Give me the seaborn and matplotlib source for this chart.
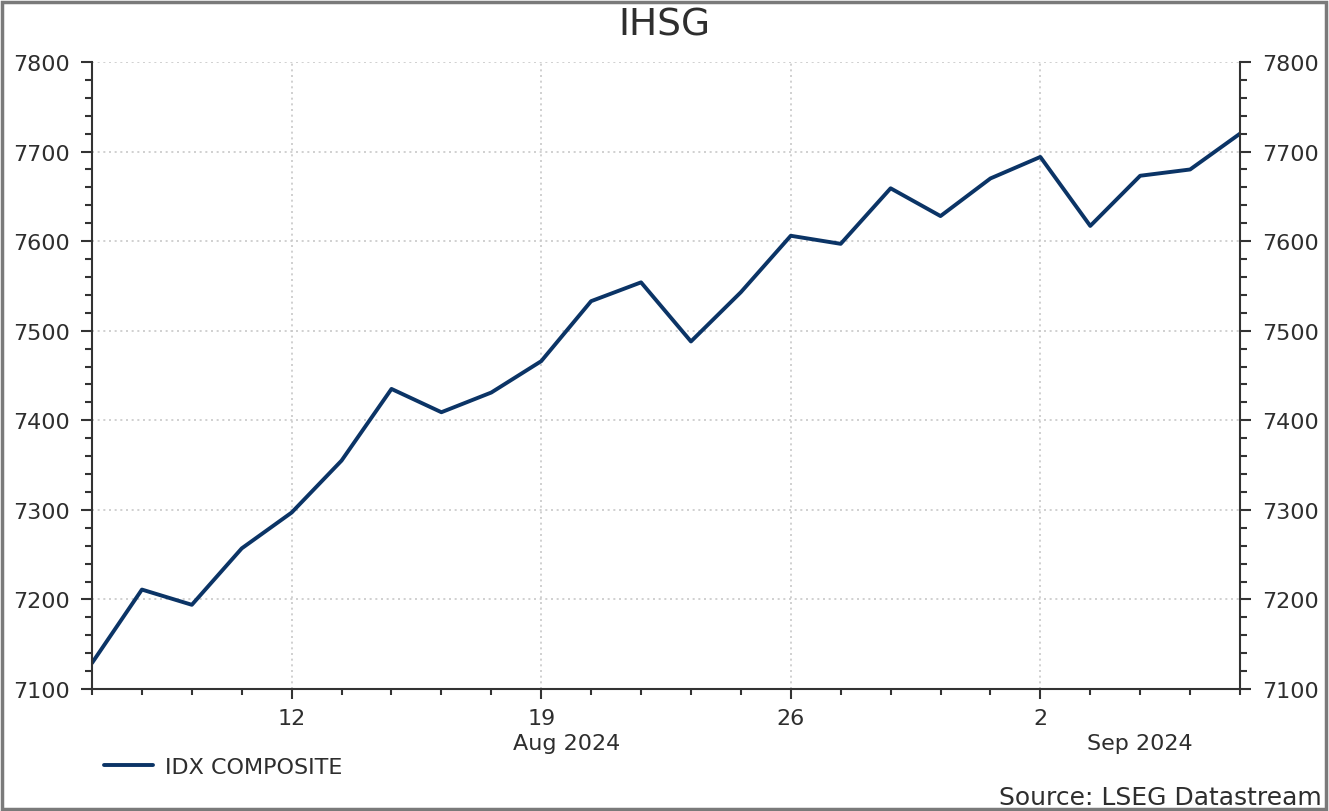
import numpy as np
import pandas as pd
import matplotlib
matplotlib.use("Agg")
import matplotlib.pyplot as plt
import seaborn as sns
from matplotlib.ticker import MultipleLocator, FixedLocator, NullFormatter
from matplotlib.patches import Rectangle

# ---- data ----
dates = pd.bdate_range("2024-08-06", "2024-09-06")
values = [7129, 7211, 7194, 7257, 7297, 7355, 7435, 7409, 7431, 7466,
          7533, 7554, 7488, 7543, 7606, 7597, 7659, 7628, 7670, 7694,
          7617, 7673, 7680, 7720]
series_name = "IDX COMPOSITE"
title = "IHSG"
source = "Source: LSEG Datastream"

df = pd.DataFrame({"date": dates, "value": values})
df["pos"] = np.arange(len(df))

sns.set_theme(style="white")
plt.rcParams["font.family"] = ["DejaVu Sans"]
text_color = "#2e2e2e"
line_color = "#0b3466"

fig = plt.figure(figsize=(13.29, 8.12), dpi=100)
ax = fig.add_axes([92/1329, 1-690/812, (1240-92)/1329, (690-63)/812])

sns.lineplot(data=df, x="pos", y="value", ax=ax, color=line_color,
             linewidth=2.8, label=series_name)

ax.set_xlim(0, len(df) - 1)
ax.set_ylim(7100, 7800)
ax.set_xlabel("")
ax.set_ylabel("")

# y ticks
ax.yaxis.set_major_locator(MultipleLocator(100))
ax.yaxis.set_minor_locator(MultipleLocator(20))
ax.tick_params(axis="y", which="both", left=True, right=True,
               labelleft=True, labelright=True, direction="out",
               colors="#333333", labelcolor=text_color, labelsize=16)
ax.tick_params(axis="y", which="major", length=8, width=1.5, pad=8)
ax.tick_params(axis="y", which="minor", length=5, width=1.5)

# x ticks: every trading day minor, Mondays major
mondays = df.index[df["date"].dt.dayofweek == 0].tolist()
ax.xaxis.set_major_locator(FixedLocator(mondays))
ax.set_xticklabels([str(df["date"][i].day) for i in mondays])
ax.xaxis.set_minor_locator(FixedLocator(df["pos"].tolist()))
ax.xaxis.set_minor_formatter(NullFormatter())
ax.tick_params(axis="x", which="both", bottom=True, direction="out",
               colors="#333333", labelcolor=text_color, labelsize=16)
ax.tick_params(axis="x", which="major", length=7, width=1.5, pad=7)
ax.tick_params(axis="x", which="minor", length=4, width=1.5)

# grid
ax.grid(True, which="major", color="#c8c8c8", linestyle=(0, (1.2, 2.2)),
        linewidth=1.2)
ax.set_axisbelow(True)

# spines
for s in ["left", "right", "bottom"]:
    ax.spines[s].set_visible(True)
    ax.spines[s].set_color("#333333")
    ax.spines[s].set_linewidth(1.5)
ax.spines["top"].set_visible(False)

# month labels
months = df["date"].dt.to_period("M")
uniq = months.unique()
for k, m in enumerate(uniq):
    idx = df.index[months == m]
    start = idx[0]
    end = df.index[months == uniq[k+1]][0] if k + 1 < len(uniq) else idx[-1]
    ax.text((start + end) / 2, -0.086, m.strftime("%b %Y"),
            transform=ax.get_xaxis_transform(), ha="center", va="center",
            fontsize=16, color=text_color)

# legend
ax.get_legend().remove()
handles, labels = ax.get_legend_handles_labels()
fig.legend(handles, labels, loc="center left",
           bbox_to_anchor=(104/1329, 1-768/812), frameon=False,
           borderpad=0, borderaxespad=0, handlelength=2.2,
           handletextpad=0.55, fontsize=16, labelcolor=text_color)

# title and source
fig.text(0.5, 1-25/812, title, ha="center", va="center", fontsize=27,
         color=text_color)
fig.text(1322/1329, 1-798/812, source, ha="right", va="center",
         fontsize=18, color=text_color)

# figure border
fig.patches.append(Rectangle((2/1329, 2/812), 1-5/1329, 1-5/812,
                             transform=fig.transFigure, fill=False,
                             edgecolor="#7a7a7a", linewidth=2.5))

fig.savefig("out.png", dpi=100)
